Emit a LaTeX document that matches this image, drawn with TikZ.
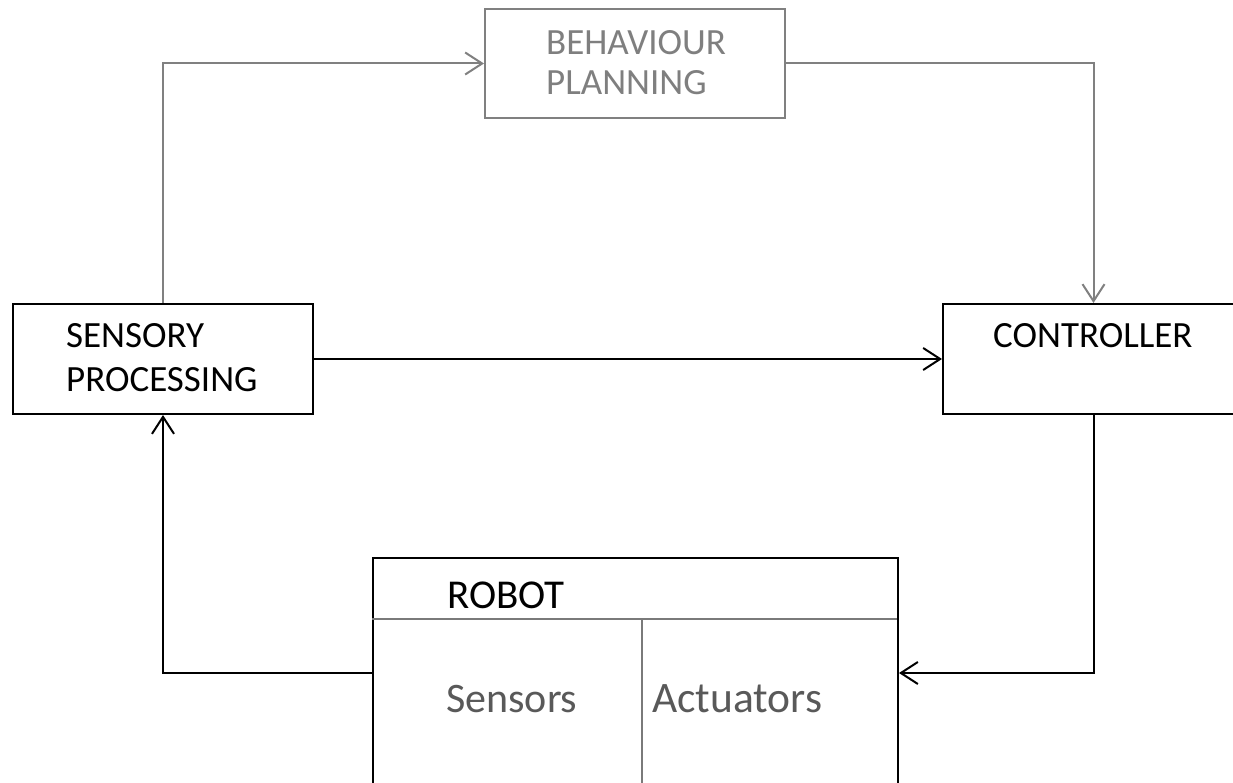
\documentclass[tikz,border=0pt]{standalone}
\usepackage{fontspec}
\setmainfont{Carlito}
\usetikzlibrary{arrows.meta}
\definecolor{linegray}{HTML}{808080}
\definecolor{textgray}{HTML}{7F7F7F}
\definecolor{darkgraytext}{HTML}{595959}
\tikzset{
  box/.style={draw=black, line width=2pt, fill=none, inner sep=0pt, anchor=north west},
  graybox/.style={draw=linegray, line width=2pt, inner sep=0pt, anchor=north west},
  lbl/.style={inner sep=0pt, anchor=base west, font=\fontsize{37}{44}\selectfont},
  conn/.style={draw=black, line width=2pt, -{Straight Barb[length=17pt,width=22pt,line width=2pt]}},
  gconn/.style={draw=linegray, line width=2pt, -{Straight Barb[length=17pt,width=22pt,line width=2pt]}},
  divider/.style={draw=darkgraytext!80, line width=1.6pt}
}
\begin{document}
\begin{tikzpicture}[x=1pt,y=-1pt]
\useasboundingbox (0,0) rectangle (1233,783);
\clip (0,0) rectangle (1233,783);
% boxes
\node[graybox, minimum width=300pt, minimum height=109pt] (bp) at (484,8) {};
\node[box, minimum width=300pt, minimum height=110pt] (sp) at (12,303) {};
\node[box, minimum width=301pt, minimum height=110pt] (ctrl) at (942,303) {};
\node[box, minimum width=525pt, minimum height=230pt] (robot) at (372,557) {};
% robot inner dividers
\coordinate (rdl) at (372,619);
\coordinate (rdr) at (897,619);
\coordinate (rvt) at (642,619);
\coordinate (rvb) at (642,790);
\draw[divider] (rdl) -- (rdr);
\draw[divider] (rvt) -- (rvb);
% texts
\node[lbl, text=textgray] (t1) at (546,55) {BEHAVIOUR};
\node[lbl, text=textgray] (t2) at (546,95) {PLANNING};
\node[lbl] (t3) at (66,347) {SENSORY};
\node[lbl] (t4) at (66,391) {PROCESSING};
\node[lbl] (t5) at (993,347) {CONTROLLER};
\node[lbl, font=\fontsize{41}{48}\selectfont] (t6) at (447,608) {ROBOT};
\node[lbl, font=\fontsize{42}{50}\selectfont, text=darkgraytext] (t7) at (446,712) {Sensors};
\node[lbl, font=\fontsize{43.5}{50}\selectfont, text=darkgraytext] (t8) at (652,712) {Actuators};
% connectors
\draw[gconn] (sp.north) |- (bp.west);
\draw[gconn] (bp.east) -| (ctrl.north);
\draw[conn] (sp.east) -- (ctrl.west);
\draw[conn] (ctrl.south) |- (robot.east);
\draw[conn] (robot.west) -| (sp.south);
\end{tikzpicture}
\end{document}
